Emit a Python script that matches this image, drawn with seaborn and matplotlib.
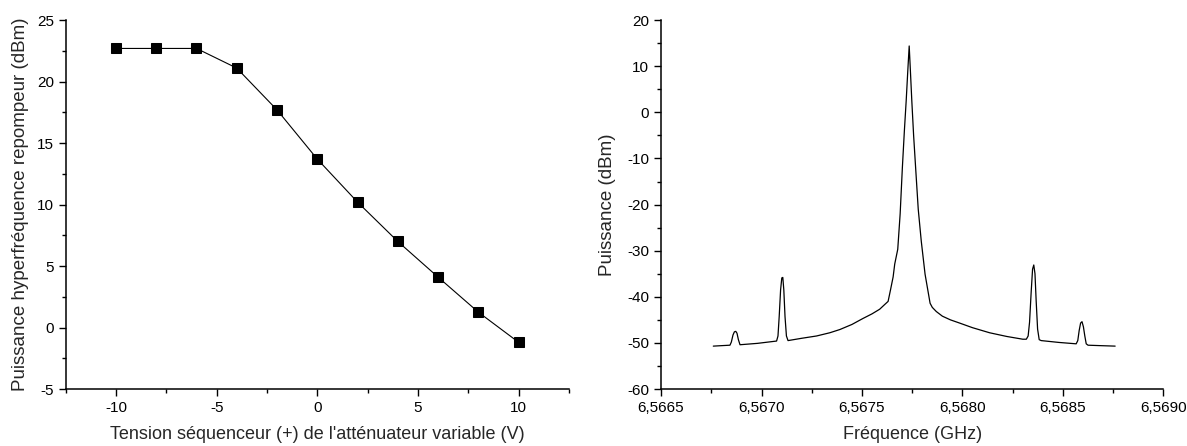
import numpy as np
import pandas as pd
import matplotlib
matplotlib.use('Agg')
import matplotlib.pyplot as plt
from matplotlib.ticker import MultipleLocator, FuncFormatter
import seaborn as sns

# données
tension = [-10, -8, -6, -4, -2, 0, 2, 4, 6, 8, 10]
puissance_hf = [22.7, 22.7, 22.7, 21.1, 17.7, 13.7, 10.2, 7.0, 4.1, 1.25, -1.2]

# spectre
freq = [6.566760, 6.566800, 6.566843, 6.566850, 6.566858, 6.566865, 6.566872,
        6.566878, 6.566885, 6.566893, 6.566980,
        6.567075, 6.567082, 6.567088, 6.567095, 6.567101, 6.567106, 6.567111,
        6.567117, 6.567124, 6.567132,
        6.567200, 6.567274, 6.567340, 6.567390, 6.567450, 6.567505, 6.567550,
        6.567588, 6.567615, 6.567630, 6.567642, 6.567655, 6.567663, 6.567678,
        6.567690, 6.567701, 6.567711, 6.567720, 6.567728, 6.567735, 6.567741,
        6.567748, 6.567757, 6.567767, 6.567780, 6.567795, 6.567814, 6.567839,
        6.567850, 6.567870, 6.567900, 6.567940, 6.567986, 6.568050, 6.568135,
        6.568220, 6.568300,
        6.568318, 6.568327, 6.568334, 6.568342, 6.568349, 6.568355, 6.568361,
        6.568367, 6.568374, 6.568382, 6.568392, 6.568480,
        6.568566, 6.568574, 6.568581, 6.568588, 6.568595, 6.568602, 6.568609,
        6.568616, 6.568625, 6.568690, 6.568760]
spectre = [-50.7, -50.6, -50.5, -49.8, -48.3, -47.6, -47.5,
           -47.9, -49.3, -50.4, -50.1,
           -49.6, -48.5, -44.3, -38.5, -35.9, -35.8, -38.5,
           -44.3, -48.5, -49.5,
           -49.0, -48.5, -47.8, -47.1, -46.0, -44.7, -43.7,
           -42.7, -41.6, -41.0, -38.5, -35.7, -32.9, -29.7,
           -22.0, -12.0, -4.0, 2.5, 9.0, 14.4, 9.0,
           2.5, -5.0, -12.0, -21.0, -27.9, -35.1, -41.4,
           -42.3, -43.2, -44.2, -45.0, -45.7, -46.7, -47.8,
           -48.6, -49.2,
           -49.2, -48.5, -45.5, -39.0, -34.0, -33.1, -35.0,
           -41.0, -47.0, -49.3, -49.5, -49.9,
           -50.2, -49.5, -47.3, -45.7, -45.4, -46.5, -48.5,
           -50.2, -50.5, -50.6, -50.7]

df1 = pd.DataFrame({'tension': tension, 'puissance': puissance_hf})
df2 = pd.DataFrame({'freq': freq, 'puissance': spectre})

sns.set_style('ticks')
plt.rcParams['font.family'] = ['Liberation Sans', 'DejaVu Sans']
plt.rcParams['axes.unicode_minus'] = False

fig = plt.figure(figsize=(11.87, 4.46), dpi=100)
ax1 = fig.add_axes([0.0553, 0.1278, 0.424, 0.827])
ax2 = fig.add_axes([0.5569, 0.1278, 0.4232, 0.827])

sns.lineplot(data=df1, x='tension', y='puissance', ax=ax1, color='black',
             linewidth=0.8, marker='s', markersize=7, markeredgecolor='black')
ax1.set_xlim(-12.5, 12.5)
ax1.set_ylim(-5, 25)
ax1.xaxis.set_major_locator(MultipleLocator(5))
ax1.xaxis.set_minor_locator(MultipleLocator(2.5))
ax1.yaxis.set_major_locator(MultipleLocator(5))
ax1.yaxis.set_minor_locator(MultipleLocator(2.5))
ax1.set_xlabel("Tension séquenceur (+) de l'atténuateur variable (V)", fontsize=13, labelpad=8)
ax1.set_ylabel('Puissance hyperfréquence repompeur (dBm)', fontsize=13.5, labelpad=6)

sns.lineplot(data=df2, x='freq', y='puissance', ax=ax2, color='black',
             linewidth=0.9)
ax2.set_xlim(6.5665, 6.5690)
ax2.set_ylim(-60, 20)
ax2.xaxis.set_major_locator(MultipleLocator(0.0005))
ax2.xaxis.set_minor_locator(MultipleLocator(0.00025))
ax2.yaxis.set_major_locator(MultipleLocator(10))
ax2.yaxis.set_minor_locator(MultipleLocator(5))
ax2.xaxis.set_major_formatter(FuncFormatter(lambda v, p: f'{v:.4f}'.replace('.', ',')))
ax2.set_xlabel('Fréquence (GHz)', fontsize=13, labelpad=8)
ax2.set_ylabel('Puissance (dBm)', fontsize=13.5, labelpad=8)

for ax in (ax1, ax2):
    sns.despine(ax=ax)
    for s in ('left', 'bottom'):
        ax.spines[s].set_linewidth(1.1)
        ax.spines[s].set_color('black')
    ax.tick_params(which='major', length=5, width=1, labelsize=11, colors='black')
    ax.tick_params(which='minor', length=3, width=1, colors='black')

fig.savefig('out.png', dpi=100)
